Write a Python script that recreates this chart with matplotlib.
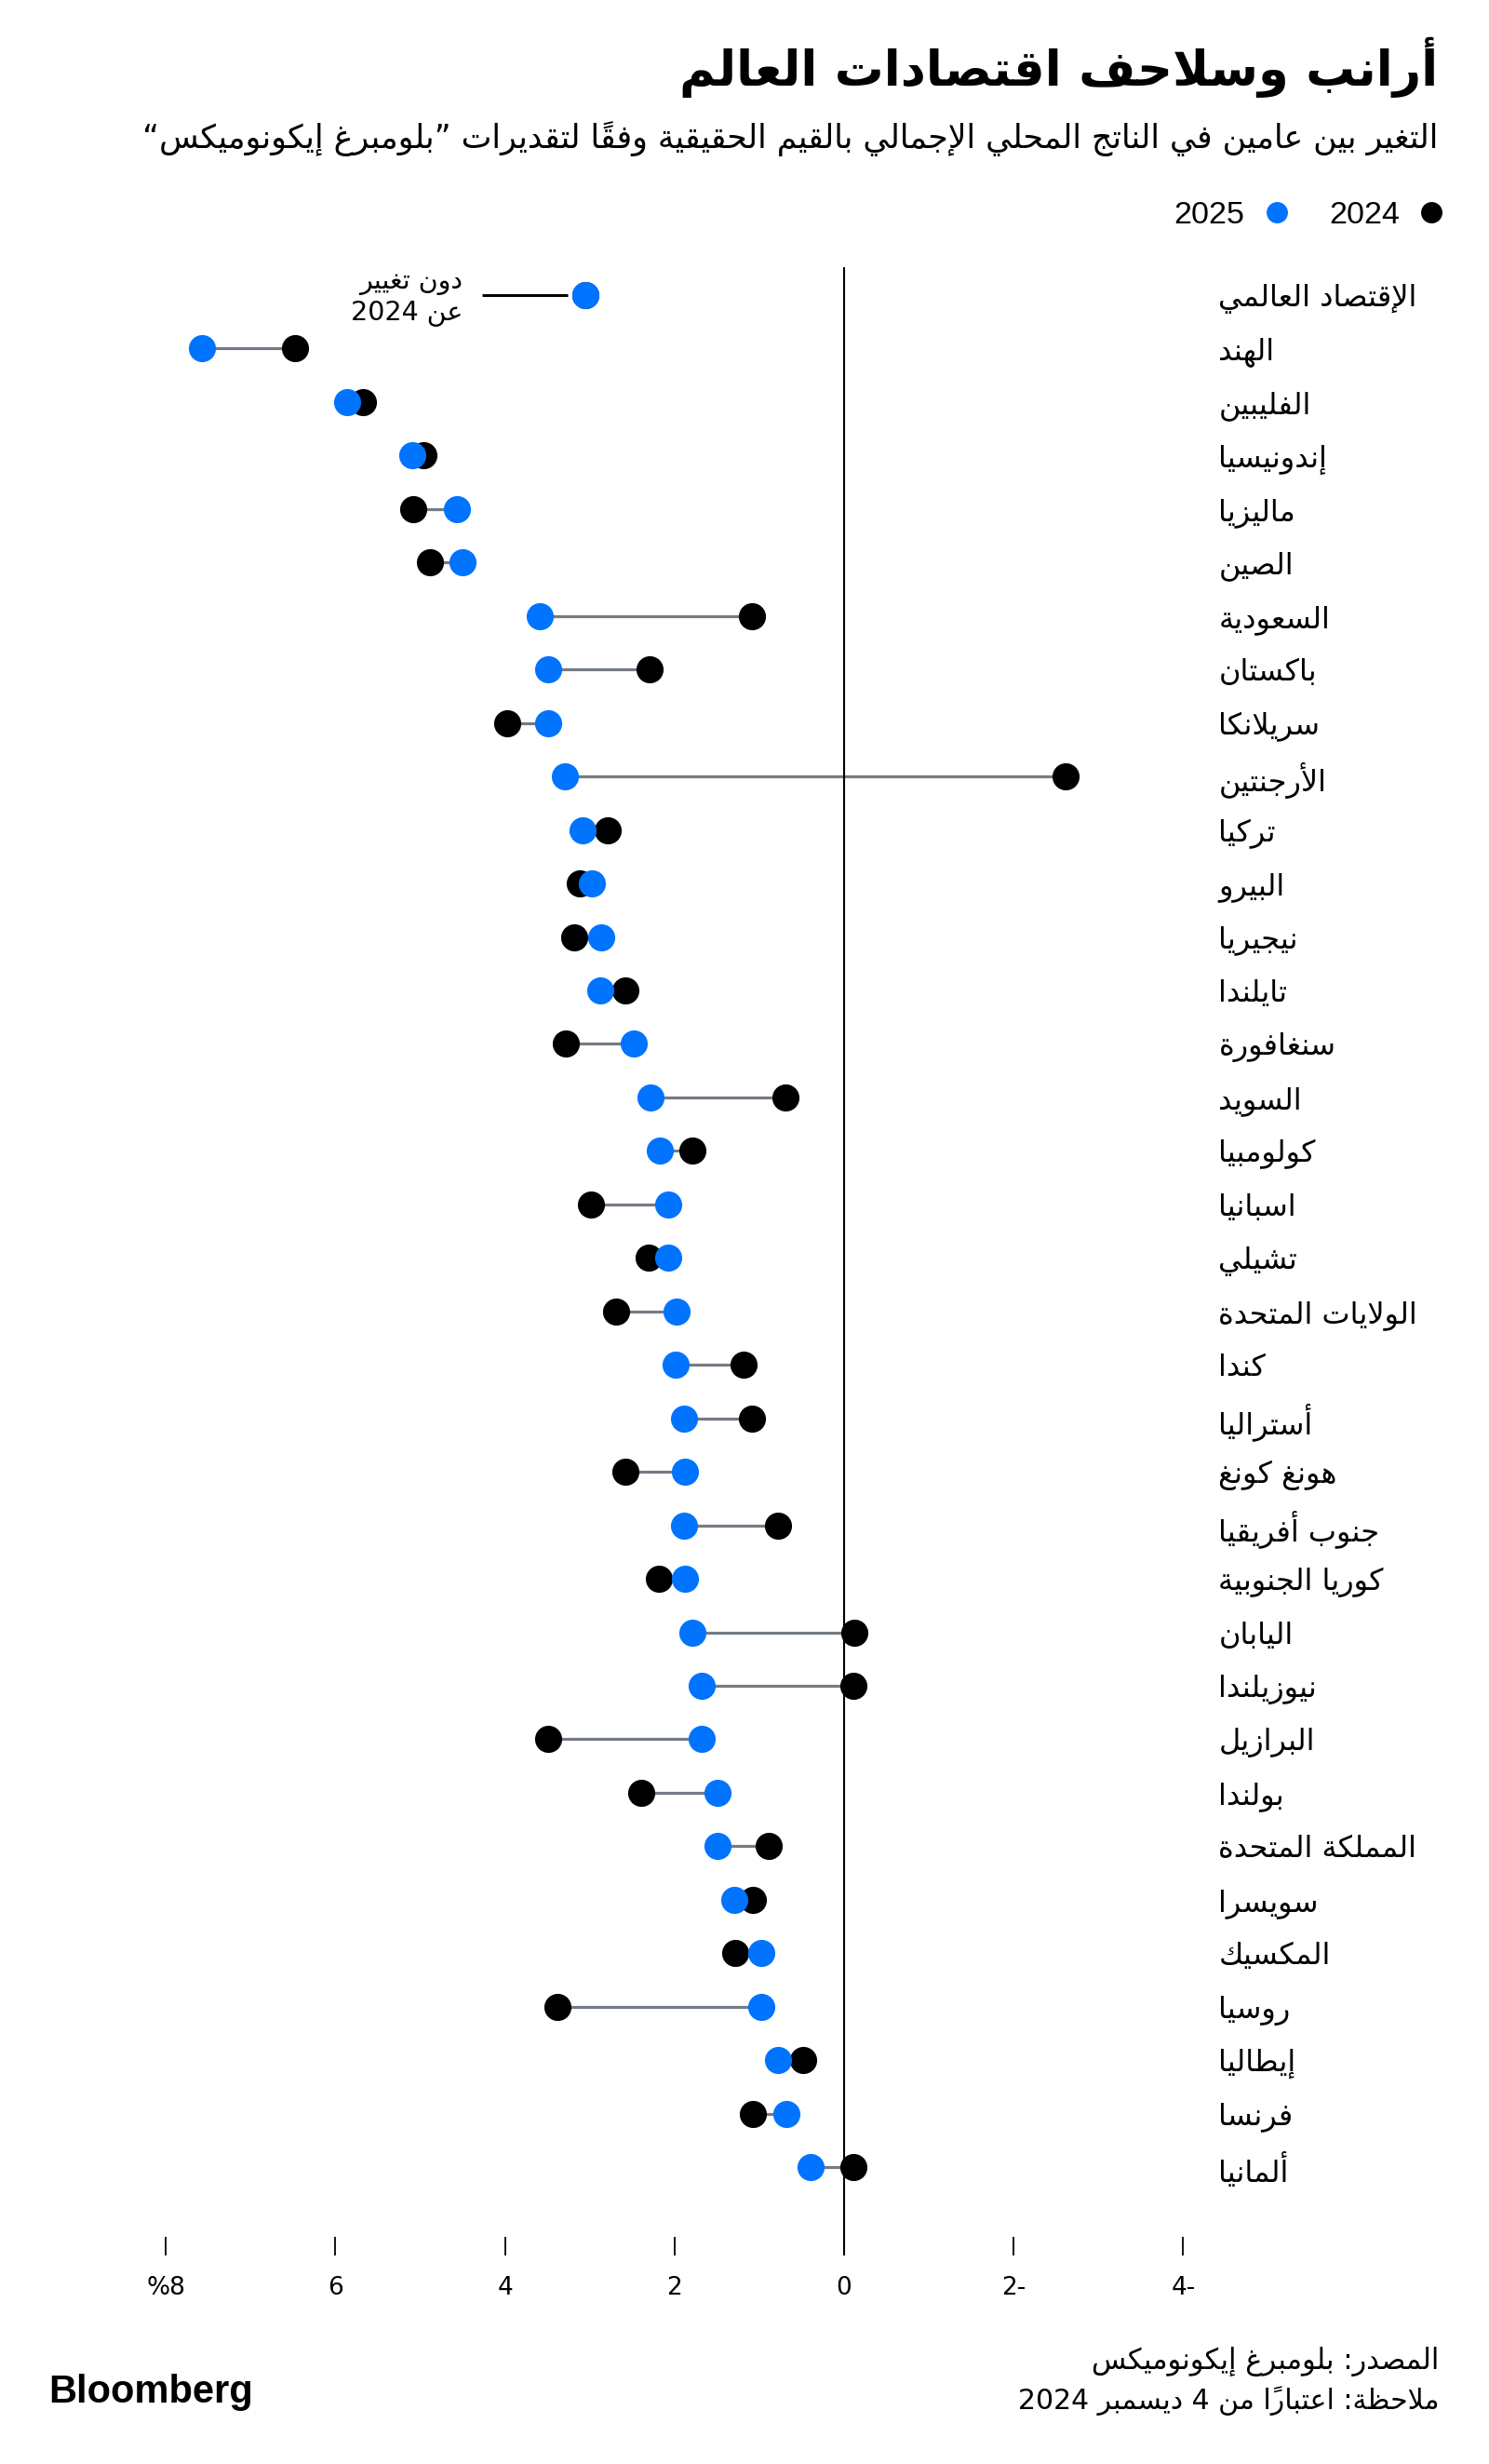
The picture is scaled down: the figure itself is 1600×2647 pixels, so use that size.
import unicodedata
import matplotlib
matplotlib.use("Agg")
import matplotlib.pyplot as plt
from matplotlib.lines import Line2D

# ---------------- data ----------------
countries = [
    "الإقتصاد العالمي", "الهند", "الفليبين", "إندونيسيا", "ماليزيا", "الصين",
    "السعودية", "باكستان", "سريلانكا", "الأرجنتين", "تركيا", "البيرو",
    "نيجيريا", "تايلندا", "سنغافورة", "السويد", "كولومبيا", "اسبانيا",
    "تشيلي", "الولايات المتحدة", "كندا", "أستراليا", "هونغ كونغ", "جنوب أفريقيا",
    "كوريا الجنوبية", "اليابان", "نيوزيلندا", "البرازيل", "بولندا", "المملكة المتحدة",
    "سويسرا", "المكسيك", "روسيا", "إيطاليا", "فرنسا", "ألمانيا",
]
gdp_2024 = [3.05, 6.48, 5.67, 4.96, 5.08, 4.88, 1.09, 2.29, 3.97, -2.61, 2.79, 3.12,
            3.18, 2.58, 3.28, 0.69, 1.79, 2.99, 2.30, 2.69, 1.19, 1.09, 2.58, 0.78,
            2.18, -0.12, -0.11, 3.49, 2.39, 0.89, 1.08, 1.28, 3.38, 0.48, 1.08, -0.11]
gdp_2025 = [3.05, 7.57, 5.86, 5.09, 4.57, 4.50, 3.59, 3.49, 3.49, 3.29, 3.08, 2.97,
            2.87, 2.88, 2.48, 2.28, 2.17, 2.08, 2.07, 1.98, 1.99, 1.89, 1.88, 1.89,
            1.88, 1.79, 1.68, 1.68, 1.49, 1.49, 1.29, 0.98, 0.98, 0.78, 0.68, 0.40]
x_ticks = [8, 6, 4, 2, 0, -2, -4]
x_tick_labels = ["%8", "6", "4", "2", "0", "2-", "4-"]
series_labels = ["2024", "2025"]

title = "أرانب وسلاحف اقتصادات العالم"
subtitle = "التغير بين عامين في الناتج المحلي الإجمالي بالقيم الحقيقية وفقاً لتقديرات ”بلومبرغ إيكونوميكس“"
note_text = "دون تغيير\nعن 2024"
source_text = "المصدر: بلومبرغ إيكونوميكس"
footnote_text = "ملاحظة: اعتباراً من 4 ديسمبر 2024"

# ---------------- Arabic shaping + bidi (visual order) ----------------
_J = {
    0x0621: (0xFE80, None, None, None), 0x0622: (0xFE81, 0xFE82, None, None),
    0x0623: (0xFE83, 0xFE84, None, None), 0x0624: (0xFE85, 0xFE86, None, None),
    0x0625: (0xFE87, 0xFE88, None, None), 0x0626: (0xFE89, 0xFE8A, 0xFE8B, 0xFE8C),
    0x0627: (0xFE8D, 0xFE8E, None, None), 0x0628: (0xFE8F, 0xFE90, 0xFE91, 0xFE92),
    0x0629: (0xFE93, 0xFE94, None, None), 0x062A: (0xFE95, 0xFE96, 0xFE97, 0xFE98),
    0x062B: (0xFE99, 0xFE9A, 0xFE9B, 0xFE9C), 0x062C: (0xFE9D, 0xFE9E, 0xFE9F, 0xFEA0),
    0x062D: (0xFEA1, 0xFEA2, 0xFEA3, 0xFEA4), 0x062E: (0xFEA5, 0xFEA6, 0xFEA7, 0xFEA8),
    0x062F: (0xFEA9, 0xFEAA, None, None), 0x0630: (0xFEAB, 0xFEAC, None, None),
    0x0631: (0xFEAD, 0xFEAE, None, None), 0x0632: (0xFEAF, 0xFEB0, None, None),
    0x0633: (0xFEB1, 0xFEB2, 0xFEB3, 0xFEB4), 0x0634: (0xFEB5, 0xFEB6, 0xFEB7, 0xFEB8),
    0x0635: (0xFEB9, 0xFEBA, 0xFEBB, 0xFEBC), 0x0636: (0xFEBD, 0xFEBE, 0xFEBF, 0xFEC0),
    0x0637: (0xFEC1, 0xFEC2, 0xFEC3, 0xFEC4), 0x0638: (0xFEC5, 0xFEC6, 0xFEC7, 0xFEC8),
    0x0639: (0xFEC9, 0xFECA, 0xFECB, 0xFECC), 0x063A: (0xFECD, 0xFECE, 0xFECF, 0xFED0),
    0x0641: (0xFED1, 0xFED2, 0xFED3, 0xFED4), 0x0642: (0xFED5, 0xFED6, 0xFED7, 0xFED8),
    0x0643: (0xFED9, 0xFEDA, 0xFEDB, 0xFEDC), 0x0644: (0xFEDD, 0xFEDE, 0xFEDF, 0xFEE0),
    0x0645: (0xFEE1, 0xFEE2, 0xFEE3, 0xFEE4), 0x0646: (0xFEE5, 0xFEE6, 0xFEE7, 0xFEE8),
    0x0647: (0xFEE9, 0xFEEA, 0xFEEB, 0xFEEC), 0x0648: (0xFEED, 0xFEEE, None, None),
    0x0649: (0xFEEF, 0xFEF0, None, None), 0x064A: (0xFEF1, 0xFEF2, 0xFEF3, 0xFEF4),
}
_LAMALEF = {0x0622: (0xFEF5, 0xFEF6), 0x0623: (0xFEF7, 0xFEF8),
            0x0625: (0xFEF9, 0xFEFA), 0x0627: (0xFEFB, 0xFEFC)}


def _is_mark(ch):
    return unicodedata.category(ch) == "Mn"


def _shape(s):
    ch = list(s)
    n = len(ch)
    out = []

    def prev_base(i):
        j = i - 1
        while j >= 0 and _is_mark(ch[j]):
            j -= 1
        return ch[j] if j >= 0 else None

    def next_idx(i):
        j = i + 1
        while j < n and _is_mark(ch[j]):
            j += 1
        return j if j < n else None

    i = 0
    while i < n:
        c = ch[i]
        o = ord(c)
        if o not in _J:
            out.append(c)
            i += 1
            continue
        p = prev_base(i)
        jp = (p is not None and ord(p) in _J and _J[ord(p)][2] is not None
              and _J[o][1] is not None)
        ni = next_idx(i)
        nc = ch[ni] if ni is not None else None
        if o == 0x0644 and nc is not None and ord(nc) in _LAMALEF:
            iso, fin = _LAMALEF[ord(nc)]
            out.append(chr(fin if jp else iso))
            for k in range(i + 1, ni):
                out.append(ch[k])
            i = ni + 1
            continue
        jn = (nc is not None and ord(nc) in _J and _J[ord(nc)][1] is not None
              and _J[o][2] is not None)
        iso, fin, ini, med = _J[o]
        f = med if (jp and jn) else fin if jp else ini if jn else iso
        out.append(chr(f))
        i += 1
    return "".join(out)


def _dir(c):
    o = ord(c)
    if 0x0600 <= o <= 0x06FF or 0xFB50 <= o <= 0xFEFF:
        return "R"
    if c.isalnum():
        return "L"
    return "N"


def _visual_line(line):
    shaped = _shape(line)
    cl = []
    for c in shaped:
        if cl and _is_mark(c):
            cl[-1] += c
        else:
            cl.append(c)
    n = len(cl)
    d = [_dir(c[0]) for c in cl]
    res = d[:]
    i = 0
    while i < n:
        if d[i] == "N":
            j = i
            while j < n and d[j] == "N":
                j += 1
            left = d[i - 1] if i > 0 else "R"
            right = d[j] if j < n else "R"
            for k in range(i, j):
                res[k] = left if left == right else "R"
            i = j
        else:
            i += 1
    rc, rd = cl[::-1], res[::-1]
    out = []
    i = 0
    while i < n:
        if rd[i] == "L":
            j = i
            while j < n and rd[j] == "L":
                j += 1
            out.extend(rc[i:j][::-1])
            i = j
        else:
            out.append(rc[i])
            i += 1
    return "".join(out)


def ar(s):
    return "\n".join(_visual_line(l) for l in s.split("\n"))


# ---------------- style ----------------
plt.rcParams["font.family"] = ["DejaVu Sans"]
W, H = 1600, 2647
BLUE = "#0073ff"
BLACK = "#000000"
GREY = "#747b85"


def fx(px):
    return px / W


def fy(py):
    return 1 - py / H


fig = plt.figure(figsize=(W / 100, H / 100), dpi=100)
fig.patch.set_facecolor("white")

# axes region in pixels
ax_l, ax_r, ax_t, ax_b = 100, 1290, 287, 2423
ax = fig.add_axes([fx(ax_l), fy(ax_b), (ax_r - ax_l) / W, (ax_b - ax_t) / H])
zero_px, unit_px = 907, 91.1
row0_px, row_px = 317, 57.46
ax.set_xlim((zero_px - ax_l) / unit_px, (zero_px - ax_r) / unit_px)
ax.set_ylim((ax_b - row0_px) / row_px, (ax_t - row0_px) / row_px)
for s in ax.spines.values():
    s.set_visible(False)

rows = list(range(len(countries)))
ax.hlines(rows, gdp_2024, gdp_2025, color=GREY, lw=2.3, zorder=2)
ax.axvline(0, color=BLACK, lw=1.5, zorder=2.5)
ax.scatter(gdp_2024, rows, s=440, color=BLACK, linewidths=0, zorder=3)
ax.scatter(gdp_2025, rows, s=440, color=BLUE, linewidths=0, zorder=4)

# x axis ticks
ax.set_xticks(x_ticks)
ax.set_xticklabels(x_tick_labels, fontsize=19)
ax.tick_params(axis="x", direction="in", length=14.4, width=1.3, color=BLACK, pad=16)

# country labels (right side)
ax.yaxis.tick_right()
ax.set_yticks(rows)
ax.set_yticklabels([ar(c) for c in countries], fontsize=23)
ax.tick_params(axis="y", length=0, pad=14)
for t in ax.get_yticklabels():
    t.set_horizontalalignment("left")

# annotation for world (no change)
w = gdp_2025[0]
ax.plot([w + 0.21, w + 1.22], [0, 0], color=BLACK, lw=2.2, zorder=3, solid_capstyle="butt")
ax.text(w + 1.45, 0.05, ar(note_text), ha="right", va="center", fontsize=20.5,
        linespacing=1.2, multialignment="right")

# title / subtitle
fig.text(fx(1545), fy(72), ar(title), ha="right", va="center", fontsize=38,
         fontweight="bold")
fig.text(fx(1545), fy(149), ar(subtitle), ha="right", va="center", fontsize=25)

# legend (markers to the right of labels)
handles = [
    Line2D([], [], linestyle="none", marker="o", markersize=16.5, color=BLUE,
           markeredgewidth=0, label=series_labels[1]),
    Line2D([], [], linestyle="none", marker="o", markersize=16.5, color=BLACK,
           markeredgewidth=0, label=series_labels[0]),
]
fig.legend(handles=handles, loc="center right", bbox_to_anchor=(fx(1551), fy(231)),
           ncol=2, markerfirst=False, frameon=False, borderpad=0, borderaxespad=0,
           handlelength=0.75, handletextpad=0.62, columnspacing=1.3,
           prop={"family": "Liberation Sans", "size": 24.5})

# footer
fig.text(fx(1546), fy(2537), ar(source_text), ha="right", va="center", fontsize=22)
fig.text(fx(1546), fy(2579), ar(footnote_text), ha="right", va="center", fontsize=21.5)
fig.text(fx(52), fy(2570), "Bloomberg", ha="left", va="center", fontsize=30,
         fontweight="bold", family="Liberation Sans")

fig.savefig("out.png", dpi=100, facecolor="white")
